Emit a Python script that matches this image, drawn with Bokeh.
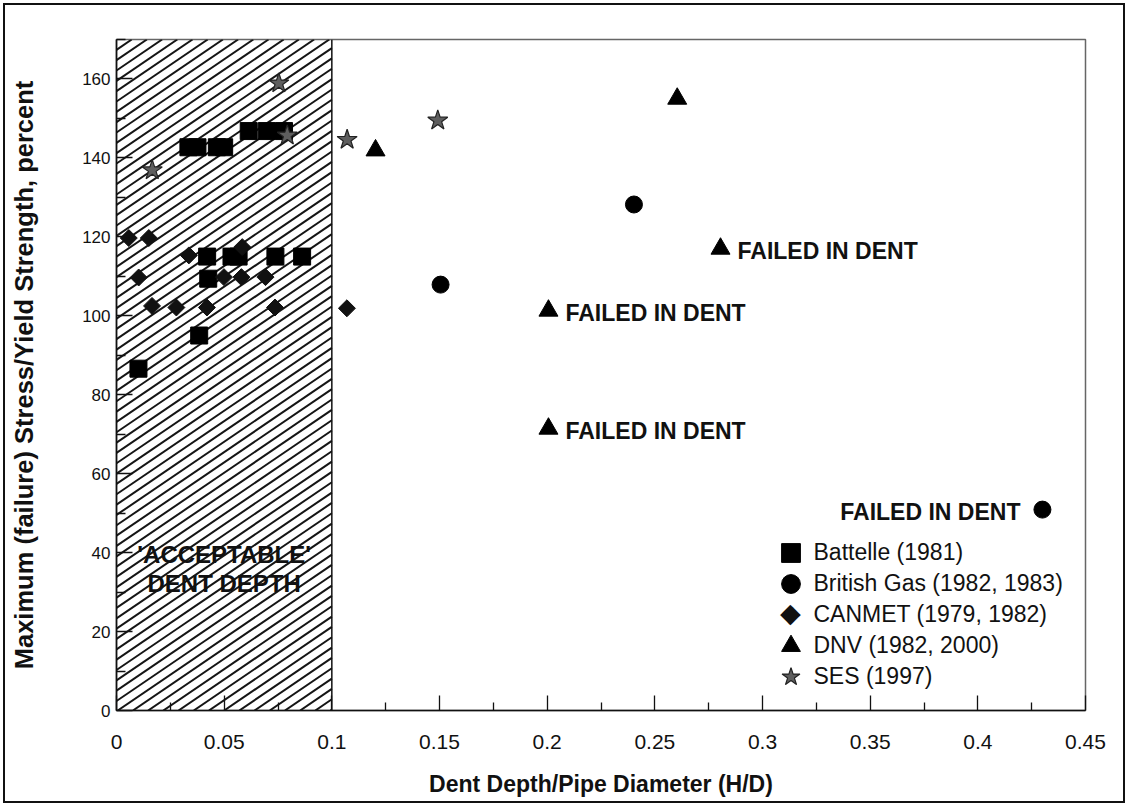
import numpy as np
from bokeh.plotting import figure
from bokeh.models import (Range1d, Legend, LegendItem, Label,
                          FixedTicker, CustomJSTickFormatter)
from bokeh.core.properties import value
from bokeh.embed import file_html
from bokeh.resources import INLINE

# ---------------- data ----------------
battelle_x = [0.0102, 0.0384, 0.0426, 0.0421, 0.0534, 0.0567, 0.0738, 0.0862,
              0.0334, 0.0376, 0.0466, 0.0500, 0.0614, 0.0698, 0.0778]
battelle_y = [86.6, 95.0, 109.4, 115.0, 115.0, 115.0, 115.0, 115.0,
              142.7, 142.7, 142.7, 142.7, 146.8, 146.8, 146.8]
bg_x = [0.1505, 0.2403, 0.4300]
bg_y = [107.9, 128.2, 50.9]
canmet_x = [0.0057, 0.0150, 0.0336, 0.0584, 0.0103, 0.0499, 0.0580, 0.0692,
            0.0165, 0.0278, 0.0420, 0.0736, 0.1070]
canmet_y = [119.7, 119.7, 115.3, 117.4, 109.7, 109.8, 109.8, 109.8,
            102.5, 102.1, 102.1, 102.1, 101.9]
dnv_x = [0.1203, 0.2604, 0.2805, 0.2006, 0.2006]
dnv_y = [141.9, 155.0, 117.0, 101.3, 71.4]
ses_x = [0.0166, 0.0754, 0.0793, 0.1071, 0.1492]
ses_y = [136.9, 158.9, 145.7, 144.6, 149.5]

failed_dnv_idx = [2, 3, 4]
failed_bg_idx = [2]
failed_text = "FAILED IN DENT"

series_labels = ["Battelle (1981)", "British Gas (1982, 1983)", "CANMET (1979, 1982)",
                 "DNV (1982, 2000)", "SES (1997)"]

accept_x = [0.0, 0.1]
accept_label = ["'ACCEPTABLE'", "DENT DEPTH"]
accept_label_y = [39.5, 32.3]

x_range = [0.0, 0.45]
y_range = [0.0, 170.0]
x_ticks = [0.0, 0.05, 0.1, 0.15, 0.2, 0.25, 0.3, 0.35, 0.4, 0.45]
x_minor = [0.025, 0.075, 0.125, 0.175, 0.225, 0.275, 0.325, 0.375, 0.425]
y_ticks = [0, 20, 40, 60, 80, 100, 120, 140, 160]
y_minor = [10, 30, 50, 70, 90, 110, 130, 150, 170]

x_title = "Dent Depth/Pipe Diameter (H/D)"
y_title = "Maximum (failure) Stress/Yield Strength, percent"

FONT = "Liberation Sans"

# ---------------- figure ----------------
W, H = 1122, 800
ML, MR, MT, MB = 111, 42, 34, 95
OFF = 5  # page offset of canvas (margin + border)
p = figure(width=W, height=H, output_backend="svg", toolbar_location=None,
           x_range=Range1d(*x_range), y_range=Range1d(*y_range),
           min_border_left=ML, min_border_right=MR, min_border_top=MT,
           min_border_bottom=MB, background_fill_color="white",
           border_fill_color="white")
p.styles = {"border": "2px solid #111", "margin": "3px"}
p.grid.visible = False
p.outline_line_color = "#666666"
p.outline_line_width = 1.5

# hatched 'acceptable' region (decorative diagonal lines)
fw = W - ML - MR
fh = H - MT - MB
ppx = fw / (x_range[1] - x_range[0])
ppy = fh / (y_range[1] - y_range[0])
rw = (accept_x[1] - accept_x[0]) * ppx
rh = (y_range[1] - y_range[0]) * ppy
slope = 0.68
step = 15.2
xs_l, ys_l = [], []
c = -rh / slope
while c < rw:
    xa = max(0.0, c)
    xb = min(rw, c + rh / slope)
    if xb > xa:
        ya = slope * (xa - c)
        yb = slope * (xb - c)
        xs_l.append([accept_x[0] + xa / ppx, accept_x[0] + xb / ppx])
        ys_l.append([y_range[0] + ya / ppy, y_range[0] + yb / ppy])
    c += step
p.multi_line(xs_l, ys_l, line_color="#151515", line_width=2.0)
p.line([accept_x[1], accept_x[1]], y_range, line_color="#111111", line_width=1.5)

for lab, ly in zip(accept_label, accept_label_y):
    p.add_layout(Label(x=np.mean(accept_x), y=ly, text=lab, text_align="center",
                       text_baseline="middle", text_font=FONT, text_font_style="bold",
                       text_font_size="24px", text_color="#111111"))

# ---------------- series ----------------
r_bat = p.scatter(battelle_x, battelle_y, marker="square", size=17,
                  fill_color="black", line_color="black")
r_bg = p.scatter(bg_x, bg_y, marker="circle", size=17,
                 fill_color="black", line_color="black")
r_can = p.scatter(canmet_x, canmet_y, marker="square", angle=np.pi / 4, size=12,
                  fill_color="#111111", line_color="#111111")
r_dnv = p.scatter(dnv_x, dnv_y, marker="triangle", size=19,
                  fill_color="black", line_color="black")
r_ses = p.scatter(ses_x, ses_y, marker="star", size=21,
                  fill_color="#5e5e5e", line_color="#222222", line_width=1.2)
# invisible key for the CANMET legend row (diamond key is drawn as a label)
r_can_key = p.scatter([], [], marker="circle", size=1, fill_alpha=0, line_alpha=0)

# failed-in-dent annotations
fx_l = [dnv_x[i] for i in failed_dnv_idx]
fy_l = [dnv_y[i] for i in failed_dnv_idx]
p.text(fx_l, fy_l, text=[failed_text] * len(fx_l), x_offset=17, y_offset=2,
       text_align="left", text_baseline="middle", text_font=value(FONT),
       text_font_style="bold", text_font_size="23px", text_color="#111111")
fx_r = [bg_x[i] for i in failed_bg_idx]
fy_r = [bg_y[i] for i in failed_bg_idx]
p.text(fx_r, fy_r, text=[failed_text] * len(fx_r), x_offset=-22, y_offset=2,
       text_align="right", text_baseline="middle", text_font=value(FONT),
       text_font_style="bold", text_font_size="23px", text_color="#111111")

# ---------------- legend (one row per Legend) ----------------
renderers = [r_bat, r_bg, r_can_key, r_dnv, r_ses]
row0, row_step = 552, 31
glyph_cx = 790
text_x = 813
gw = 47
for i, (r, lab) in enumerate(zip(renderers, series_labels)):
    cy = row0 + row_step * i
    bottom = (MT + fh + OFF) - cy - gw / 2
    left = glyph_cx - gw / 2 - (ML + OFF)
    lg = Legend(items=[LegendItem(label=lab, renderers=[r])],
                location=(left, bottom), orientation="vertical",
                glyph_width=gw, glyph_height=gw, label_height=gw,
                label_standoff=int(round(text_x - (glyph_cx + gw / 2))),
                padding=0, margin=0, spacing=0, border_line_color=None,
                background_fill_alpha=0, label_text_font=FONT,
                label_text_font_size="23px", label_text_color="#111111")
    p.add_layout(lg, "center")
# diamond key for CANMET
cy = row0 + row_step * series_labels.index("CANMET (1979, 1982)")
p.add_layout(Label(x=glyph_cx - (ML + OFF), y=(MT + fh + OFF) - cy + 2,
                   x_units="screen", y_units="screen", text="\u25C6",
                   text_align="center", text_baseline="middle",
                   text_font="DejaVu Sans", text_font_size="27px",
                   text_color="#111111"))

# ---------------- axes ----------------
p.xaxis.ticker = FixedTicker(ticks=x_ticks, minor_ticks=x_minor)
p.yaxis.ticker = FixedTicker(ticks=y_ticks, minor_ticks=y_minor)
p.xaxis.formatter = CustomJSTickFormatter(
    code="var s = tick.toFixed(2); s = s.replace(/0+$/, ''); return s.replace(/\\.$/, '');")
for ax in (p.xaxis[0], p.yaxis[0]):
    ax.axis_line_color = "#111111"
    ax.axis_line_width = 1.6
    ax.major_tick_line_color = "#111111"
    ax.minor_tick_line_color = "#111111"
    ax.major_tick_line_width = 1.3
    ax.minor_tick_line_width = 1.3
    ax.major_tick_out = 0
    ax.minor_tick_out = 0
    ax.major_label_text_font = FONT
    ax.major_label_text_color = "#111111"
    ax.axis_label_text_font = FONT
    ax.axis_label_text_font_style = "bold"
    ax.axis_label_text_color = "#111111"

p.xaxis.major_tick_in = 15
p.xaxis.minor_tick_in = 8
p.yaxis.major_tick_in = 16
p.yaxis.minor_tick_in = 9
p.xaxis.major_label_text_font_size = "21px"
p.yaxis.major_label_text_font_size = "17px"
p.xaxis.major_label_standoff = 24
p.yaxis.major_label_standoff = 6
p.xaxis.axis_label = x_title
p.yaxis.axis_label = y_title
p.xaxis.axis_label_text_font_size = "23px"
p.yaxis.axis_label_text_font_size = "25.5px"
p.xaxis.axis_label_standoff = 19
p.yaxis.axis_label_standoff = 41

open("out.html", "w").write(file_html(p, INLINE))
